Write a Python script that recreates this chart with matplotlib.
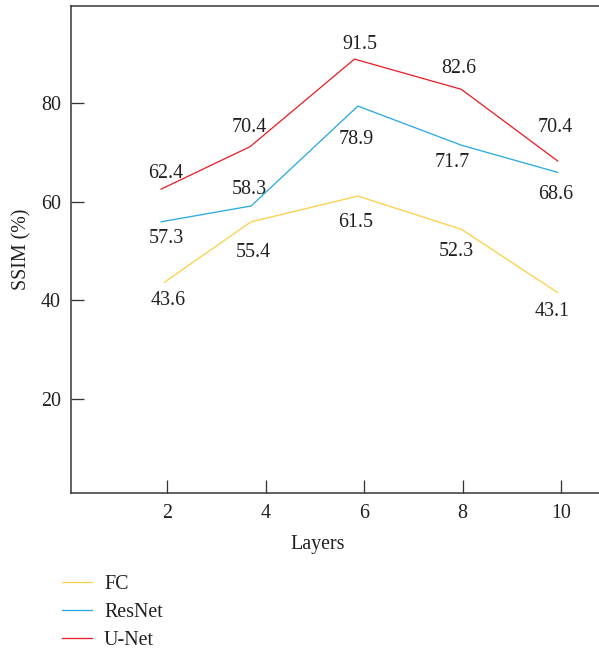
import matplotlib
matplotlib.use('Agg')
import matplotlib.pyplot as plt

# data
layers_fc = [1.94, 3.70, 5.87, 7.97, 9.93]
layers_resnet = [1.87, 3.70, 5.87, 7.97, 9.93]
layers_unet = [1.87, 3.68, 5.80, 7.97, 9.93]

ssim_fc = [43.7, 55.9, 61.1, 54.4, 41.6]
ssim_resnet = [55.9, 59.1, 79.3, 71.4, 65.9]
ssim_unet = [62.5, 71.1, 88.8, 82.7, 68.2]

labels_fc = ['43.6', '55.4', '61.5', '52.3', '43.1']
labels_resnet = ['57.3', '58.3', '78.9', '71.7', '68.6']
labels_unet = ['62.4', '70.4', '91.5', '82.6', '70.4']

xticks = [2, 4, 6, 8, 10]
yticks = [20, 40, 60, 80]

# label offsets (points) from each vertex
off_fc = [(4, -18), (2, -31), (-2, -26), (-5, -22), (-6, -19)]
off_resnet = [(5, -17), (-2, 16), (-2, -33), (-9, -17), (-2, -22)]
off_unet = [(5, 16), (-1, 19), (5, 15), (-2, 21), (-2, 33)]

plt.rcParams['font.family'] = ['Liberation Serif', 'DejaVu Serif']
text_color = '#231f20'
fs = 20

fig = plt.figure(figsize=(599 / 72, 652 / 72), dpi=72)
ax = fig.add_axes([71 / 599, 1 - 493.3 / 652, 528 / 599, 487.6 / 652])

series = [
    ('FC', layers_fc, ssim_fc, labels_fc, off_fc, '#fbd04a'),
    ('ResNet', layers_resnet, ssim_resnet, labels_resnet, off_resnet, '#29aae1'),
    ('U-Net', layers_unet, ssim_unet, labels_unet, off_unet, '#e8202a'),
]

for name, xs, ys, labs, offs, col in series:
    ax.plot(xs, ys, color=col, lw=1.3, label=name)
    for x, y, s, o in zip(xs, ys, labs, offs):
        ax.annotate(s, (x, y), xytext=o, textcoords='offset points',
                    ha='center', va='center', fontsize=fs, color=text_color)

ax.set_xlim(0.04, 10.77)
ax.set_ylim(1, 99.6)
ax.set_xticks(xticks)
ax.set_yticks(yticks)
ax.tick_params(direction='in', length=13, width=1.3, color='#333333',
               labelsize=fs, labelcolor=text_color)
ax.tick_params(axis='x', pad=11)
ax.tick_params(axis='y', pad=10)
ax.spines['right'].set_visible(False)
for side in ['left', 'top', 'bottom']:
    ax.spines[side].set_linewidth(1.5)
    ax.spines[side].set_color('#333333')

ax.set_xlabel('Layers', fontsize=fs, color=text_color)
ax.xaxis.set_label_coords(0.467, -0.085)
ax.set_ylabel('SSIM (%)', fontsize=fs, color=text_color)
ax.yaxis.set_label_coords(-0.075, 0.5)

fig.legend(loc='upper left', bbox_to_anchor=(48 / 599, 1 - 561 / 652),
           frameon=False, fontsize=fs, handlelength=1.5, handletextpad=0.6,
           labelspacing=0.45, labelcolor=text_color, borderaxespad=0.3)

fig.savefig('out.png', dpi=72)
